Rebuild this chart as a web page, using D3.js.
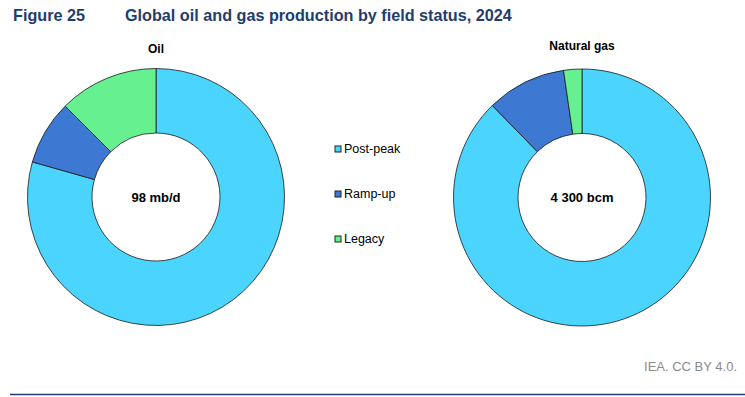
<!DOCTYPE html>
<html>
<head>
<meta charset="utf-8">
<script src="https://cdn.jsdelivr.net/npm/d3@7"></script>
<style>
  body { margin: 0; background: #fff; }
  text { font-family: "Liberation Sans", Arial, sans-serif; }
</style>
</head>
<body>
<div id="chart"></div>
<script>
// Data (shares of production, %)
var categories = ["Post-peak", "Ramp-up", "Legacy"];
var oilShares = [79.4, 8.1, 12.5];
var gasShares = [87.7, 10.0, 2.3];
var panelTitles = ["Oil", "Natural gas"];
var centerLabels = ["98 mb/d", "4 300 bcm"];

var width = 745;
var height = 397;

var svg = d3.select("#chart")
  .append("svg")
  .attr("width", width)
  .attr("height", height);

var color = d3.scaleOrdinal()
  .domain(categories)
  .range(["#4ad4fe", "#3d78d3", "#66f08f"]);

// Title
svg.append("text")
  .attr("x", 13).attr("y", 21)
  .attr("font-size", 16.2).attr("font-weight", "bold")
  .attr("fill", "#1f3d6d")
  .text("Figure 25");
svg.append("text")
  .attr("x", 125).attr("y", 21)
  .attr("font-size", 16.2).attr("font-weight", "bold")
  .attr("fill", "#1f3d6d")
  .text("Global oil and gas production by field status, 2024");

var pie = d3.pie().sort(null).value(function(d) { return d.value; });
var outerR = 128.5;
var innerR = 64;
var arc = d3.arc().innerRadius(innerR).outerRadius(outerR);

var panels = [
  { cx: 156, cy: 197, values: oilShares, titleY: 53 },
  { cx: 582, cy: 197.5, values: gasShares, titleY: 50 }
];

panels.forEach(function(p, i) {
  var g = svg.append("g")
    .attr("transform", "translate(" + p.cx + "," + p.cy + ")");

  var data = categories.map(function(c, j) {
    return { name: c, value: p.values[j] };
  });

  g.selectAll("path")
    .data(pie(data))
    .enter()
    .append("path")
    .attr("d", arc)
    .attr("fill", function(d) { return color(d.data.name); })
    .attr("stroke", "#1a1a1a")
    .attr("stroke-width", 0.8);

  g.append("text")
    .attr("y", 4.5)
    .attr("text-anchor", "middle")
    .attr("font-size", 13).attr("font-weight", "bold")
    .attr("fill", "#000")
    .text(centerLabels[i]);

  svg.append("text")
    .attr("x", p.cx).attr("y", p.titleY)
    .attr("text-anchor", "middle")
    .attr("font-size", 12).attr("font-weight", "bold")
    .attr("fill", "#000")
    .text(panelTitles[i]);
});

// Legend
var legend = svg.append("g").attr("transform", "translate(335,146)");
var items = legend.selectAll("g")
  .data(categories)
  .enter()
  .append("g")
  .attr("transform", function(d, i) { return "translate(0," + (i * 45) + ")"; });
items.append("rect")
  .attr("width", 6).attr("height", 6)
  .attr("fill", function(d) { return color(d); })
  .attr("stroke", "#222").attr("stroke-width", 1);
items.append("text")
  .attr("x", 9).attr("y", 7)
  .attr("font-size", 12.5)
  .attr("fill", "#000")
  .text(function(d) { return d; });

// Footer
svg.append("text")
  .attr("x", 737).attr("y", 371)
  .attr("text-anchor", "end")
  .attr("font-size", 13)
  .attr("fill", "#8a8a8a")
  .text("IEA. CC BY 4.0.");
svg.append("line")
  .attr("x1", 10).attr("x2", 745)
  .attr("y1", 394.5).attr("y2", 394.5)
  .attr("stroke", "#1f3d6d").attr("stroke-width", 1.3);
</script>
</body>
</html>
